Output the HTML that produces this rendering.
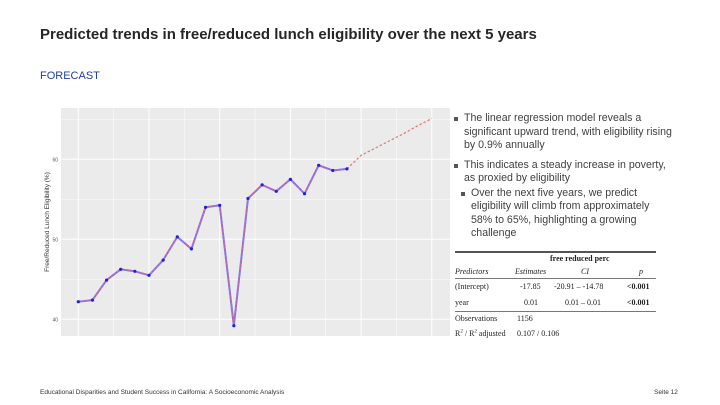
<!DOCTYPE html>
<html><head><meta charset="utf-8">
<style>
body{margin:0;width:720px;height:405px;background:#fff;position:relative;overflow:hidden;font-family:"Liberation Sans",sans-serif;}
.abs{position:absolute;}
#title{left:40px;top:26px;font-size:15px;font-weight:bold;color:#262626;}
#sub{left:40px;top:70px;font-size:11px;color:#1f3f9f;}
#bul{left:453px;top:112px;width:224px;font-size:10.6px;line-height:13.5px;color:#404040;}
.b{position:relative;padding-left:11px;}
.b:before{content:"";position:absolute;left:1px;top:5px;width:4px;height:4px;background:#555;}
.b2{margin-left:7px;width:200px;}
#tbl{left:455px;top:245px;width:201px;font-family:"Liberation Serif",serif;font-size:8px;color:#222;}
#foot{left:40px;top:389px;font-size:6.5px;color:#333;}
#page{left:654px;top:389px;font-size:6.5px;color:#333;}
</style></head><body>
<div class="abs" id="title">Predicted trends in free/reduced lunch eligibility over the next 5 years</div>
<div class="abs" id="sub">FORECAST</div>
<svg class="abs" style="left:0;top:0" width="450" height="345">
<g id="g"></g>
</svg>
<div class="abs" id="bul">
<div class="b">The linear regression model reveals a<br>significant upward trend, with eligibility rising<br>by 0.9% annually</div>
<div class="b" style="margin-top:6px">This indicates a steady increase in poverty,<br>as proxied by eligibility</div>
<div class="b b2" style="margin-top:1px">Over the next five years, we predict<br>eligibility will climb from approximately<br>58% to 65%, highlighting a growing<br>challenge</div>
</div>
<div class="abs" id="tbl">
<div style="border-top:2.5px solid #555;height:0;margin-top:6px"></div>
<div style="position:absolute;left:95px;top:9px;font-weight:bold">free reduced perc</div>
<div style="position:absolute;left:0;top:22px;font-style:italic">Predictors</div>
<div style="position:absolute;left:60px;top:22px;font-style:italic">Estimates</div>
<div style="position:absolute;left:126px;top:22px;font-style:italic">CI</div>
<div style="position:absolute;left:184px;top:22px;font-style:italic">p</div>
<div style="position:absolute;left:0;top:33px;width:201px;border-top:1px solid #777"></div>
<div style="position:absolute;left:0;top:37px">(Intercept)</div>
<div style="position:absolute;left:65px;top:37px">-17.85</div>
<div style="position:absolute;left:99px;top:37px">-20.91 – -14.78</div>
<div style="position:absolute;left:172px;top:37px;font-weight:bold">&lt;0.001</div>
<div style="position:absolute;left:0;top:53px">year</div>
<div style="position:absolute;left:69px;top:53px">0.01</div>
<div style="position:absolute;left:110px;top:53px">0.01 – 0.01</div>
<div style="position:absolute;left:172px;top:53px;font-weight:bold">&lt;0.001</div>
<div style="position:absolute;left:0;top:66px;width:201px;border-top:1px solid #777"></div>
<div style="position:absolute;left:0;top:69px">Observations</div>
<div style="position:absolute;left:62px;top:69px">1156</div>
<div style="position:absolute;left:0;top:84px">R<sup style="font-size:5px">2</sup> / R<sup style="font-size:5px">2</sup> adjusted</div>
<div style="position:absolute;left:62px;top:84px">0.107 / 0.106</div>
</div>
<div class="abs" id="foot">Educational Disparities and Student Success in California: A Socioeconomic Analysis</div>
<div class="abs" id="page">Seite 12</div>
<script>
const years=[2004,2005,2006,2007,2008,2009,2010,2011,2012,2013,2014,2015,2016,2017,2018,2019,2020,2021,2022,2023];
const values=[42.2,42.4,44.9,46.25,46.0,45.5,47.4,50.3,48.8,54.0,54.25,39.2,55.1,56.8,56.0,57.5,55.7,59.25,58.6,58.8];
const fYears=[2023,2024,2025,2026,2027,2028,2029];
const fValues=[58.8,60.5,61.4,62.3,63.2,64.2,65.1];
const yTicks=[40,50,60];
const xMajor=[2004,2009,2014,2019,2024,2029];
const NS='http://www.w3.org/2000/svg';
const X=y=>78.3+(y-2004)*14.14;
const Y=v=>159.3-(v-60)*8;
const g=document.getElementById('g');
function mk(t,a){const e=document.createElementNS(NS,t);for(const k in a)e.setAttribute(k,a[k]);g.appendChild(e);return e;}
const L=61,R=450,T=108,B=336;
let e=mk('rect',{x:L,y:T,width:R-L,height:B-T,fill:'#ebebeb'});

for(let v=35;v<=70;v+=5){const y=Y(v);if(y<T||y>B)continue;e=mk('line',{x1:L,x2:R,y1:y,y2:y,stroke:'#fff','stroke-width':v%10?0.5:1});
}
for(let yr=2001.5;yr<=2032;yr+=2.5){const x=X(yr);if(x<L||x>R)continue;const maj=xMajor.includes(yr);e=mk('line',{x1:x,x2:x,y1:T,y2:B,stroke:'#fff','stroke-width':maj?1:0.5});
}
yTicks.forEach(v=>{const t=mk('text',{x:58,y:Y(v)+2,'font-size':5,fill:'#555','text-anchor':'end'});t.textContent=v;
});
const yt=mk('text',{x:0,y:0,'font-size':6.5,fill:'#333','text-anchor':'middle',transform:'translate(49,222) rotate(-90)'});
yt.textContent='Free/Reduced Lunch Eligibility (%)';

const pts=years.map((y,i)=>X(y)+','+Y(values[i])).join(' ');
e=mk('polyline',{points:pts,fill:'none',stroke:'#8a6fe0','stroke-width':2});

e=mk('polyline',{points:pts,fill:'none',stroke:'#f07070','stroke-width':0.8,'stroke-dasharray':'2 2'});

e=mk('polyline',{points:fYears.map((y,i)=>X(y)+','+Y(fValues[i])).join(' '),fill:'none',stroke:'#f07070','stroke-width':1.2,'stroke-dasharray':'2.5 2'});

years.forEach((y,i)=>{const c=mk('circle',{cx:X(y),cy:Y(values[i]),r:1.6,fill:'#2020e0'});
});
</script>
</body></html>
